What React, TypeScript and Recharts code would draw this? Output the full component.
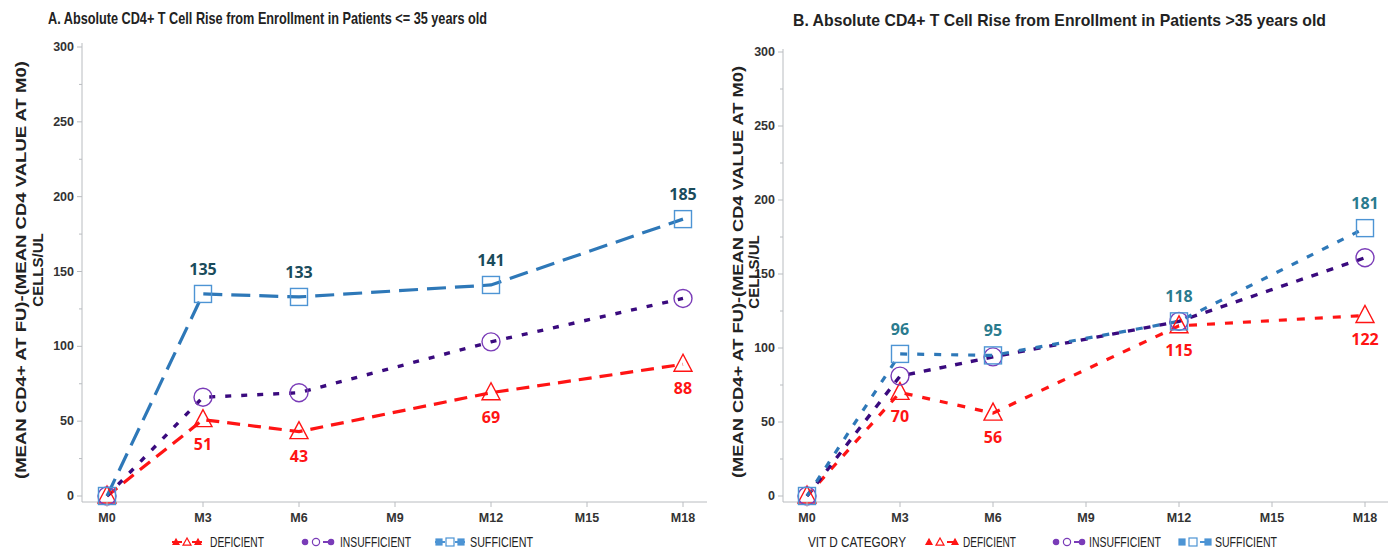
import React from 'react';
import { LineChart, Line, XAxis, YAxis, LabelList } from 'recharts';

const months = [0, 3, 6, 12, 18];
const xTicks = [0, 3, 6, 9, 12, 15, 18];
const yTicks = [0, 25, 50, 75, 100, 125, 150, 175, 200, 225, 250, 275, 300];

const leftDeficient = [0, 51, 43, 69, 88];
const leftInsufficient = [0, 66, 69, 103, 132];
const leftSufficient = [0, 135, 133, 141, 185];

const rightDeficient = [0, 70, 56, 115, 122];
const rightInsufficient = [0, 81, 94, 118, 161];
const rightSufficient = [0, 96, 95, 118, 181];

const titleA = 'A.  Absolute CD4+ T Cell Rise from Enrollment in Patients <= 35 years old';
const titleB = 'B. Absolute CD4+ T Cell Rise from Enrollment in Patients >35 years old';
const yLabel1 = '(MEAN CD4+ AT FU)-(MEAN CD4 VALUE AT M0)';
const yLabel2 = 'CELLS/UL';

const RED = '#ff1414';
const PURPLE_LINE = '#3a0a7e';
const PURPLE_MARK = '#7a3cb8';
const BLUE = '#2e78b8';
const BLUE_MARK = '#4d94d4';
const FRAME = '#b9bcc0';
const NARROW = "'Liberation Sans Narrow', 'Arial Narrow', 'Liberation Sans', sans-serif";
const WIDE = "'Liberation Sans', Arial, sans-serif";
const LABELFONT = "'Open Sans', 'Noto Sans', sans-serif";

const buildRows = (d: number[], i: number[], s: number[]) =>
  months.map((m, k) => ({ m, def: d[k], ins: i[k], suf: s[k] }));

const leftRows = buildRows(leftDeficient, leftInsufficient, leftSufficient);
const rightRows = buildRows(rightDeficient, rightInsufficient, rightSufficient);

const Triangle = (p: any) => {
  const { cx, cy } = p;
  if (cx == null || cy == null) return null;
  return (
    <polygon
      key={`t${p.index}`}
      points={`${cx},${cy - 10} ${cx - 9},${cy + 7} ${cx + 9},${cy + 7}`}
      fill="none"
      stroke={RED}
      strokeWidth={1.4}
    />
  );
};
const Circle = (p: any) => {
  const { cx, cy } = p;
  if (cx == null || cy == null) return null;
  return <circle key={`c${p.index}`} cx={cx} cy={cy} r={9} fill="none" stroke={PURPLE_MARK} strokeWidth={1.4} />;
};
const Square = (p: any) => {
  const { cx, cy } = p;
  if (cx == null || cy == null) return null;
  return (
    <rect key={`s${p.index}`} x={cx - 8.5} y={cy - 8.5} width={17} height={17} fill="none" stroke={BLUE_MARK} strokeWidth={1.4} />
  );
};

const makeLabel = (color: string, dy: number) => (p: any) => {
  const { x, y, value, index } = p;
  if (index === 0) return null;
  return (
    <text
      key={`l${index}`}
      x={x}
      y={y + dy}
      textAnchor="middle"
      dominantBaseline="central"
      fill={color}
      fontFamily={LABELFONT}
      fontWeight={700}
      fontSize={16}
    >
      {value}
    </text>
  );
};

const YTick = (p: any) => {
  const { x, y, payload } = p;
  const major = payload.value % 50 === 0;
  return (
    <g>
      <line x1={x} x2={x - (major ? 5 : 3)} y1={y} y2={y} stroke={FRAME} strokeWidth={1} />
      {major && (
        <text
          x={x - 8}
          y={y}
          textAnchor="end"
          dominantBaseline="central"
          fontFamily={NARROW}
          fontWeight={700}
          fontSize={12.5}
          fill="#333"
        >
          {payload.value}
        </text>
      )}
    </g>
  );
};

const XTick = (p: any) => {
  const { x, y, payload } = p;
  return (
    <g>
      <line x1={x} x2={x} y1={y} y2={y + 5} stroke={FRAME} strokeWidth={1} />
      <text
        x={x}
        y={y + 16}
        textAnchor="middle"
        dominantBaseline="central"
        fontFamily={NARROW}
        fontWeight={700}
        fontSize={12.5}
        fill="#333"
      >
        {'M' + payload.value}
      </text>
    </g>
  );
};

type PanelProps = {
  rows: any[];
  left: number;
  width: number;
  top: number;
  axisW: number;
  padTop: number;
  padBottom: number;
  xPad: { left: number; right: number };
  dashes: { def: string; ins: string; suf: string };
  topLabelColor: string;
};

const Panel = ({ rows, left, width, top, axisW, padTop, padBottom, xPad, dashes, topLabelColor }: PanelProps) => (
  <div style={{ position: 'absolute', left, top: 0 }}>
    <LineChart width={width} height={558} data={rows} margin={{ top, right: 0, bottom: 0, left: 0 }}>
      <XAxis
        dataKey="m"
        type="number"
        domain={[0, 18]}
        ticks={xTicks}
        padding={xPad}
        height={558 - 502}
        tickSize={0}
        tickMargin={0}
        axisLine={{ stroke: FRAME }}
        tickLine={false}
        tick={<XTick />}
        interval={0}
      />
      <XAxis
        xAxisId="frame"
        orientation="top"
        type="number"
        domain={[0, 18]}
        height={0}
        tick={false}
        tickLine={false}
        axisLine={{ stroke: FRAME }}
      />
      <YAxis
        type="number"
        domain={[0, 300]}
        ticks={yTicks}
        padding={{ top: padTop, bottom: padBottom }}
        width={axisW}
        tickSize={0}
        tickMargin={0}
        axisLine={{ stroke: FRAME }}
        tickLine={false}
        tick={<YTick />}
        interval={0}
      />
      <YAxis
        yAxisId="frame"
        orientation="right"
        type="number"
        domain={[0, 300]}
        width={0}
        tick={false}
        tickLine={false}
        axisLine={{ stroke: FRAME }}
      />
      <Line
        dataKey="def"
        stroke={RED}
        strokeWidth={3.2}
        strokeDasharray={dashes.def}
        dot={Triangle}
        activeDot={false}
        isAnimationActive={false}
      >
        <LabelList dataKey="def" content={makeLabel(RED, 24)} />
      </Line>
      <Line
        dataKey="ins"
        stroke={PURPLE_LINE}
        strokeWidth={3.4}
        strokeDasharray={dashes.ins}
        dot={Circle}
        activeDot={false}
        isAnimationActive={false}
      />
      <Line
        dataKey="suf"
        stroke={BLUE}
        strokeWidth={3.2}
        strokeDasharray={dashes.suf}
        dot={Square}
        activeDot={false}
        isAnimationActive={false}
      >
        <LabelList dataKey="suf" content={makeLabel(topLabelColor, -25)} />
      </Line>
    </LineChart>
  </div>
);

const LegendSym = ({ kind, color, x, mini }: { kind: string; color: string; x: number; mini: boolean }) => {
  const cy = 9;
  const mark = (cx: number, r: number, filled: boolean) => {
    if (kind === 'tri')
      return <polygon points={`${cx},${cy - r} ${cx - r},${cy + r * 0.8} ${cx + r},${cy + r * 0.8}`} fill={filled ? color : 'none'} stroke={color} strokeWidth={1.2} />;
    if (kind === 'circ') return <circle cx={cx} cy={cy} r={r * 0.9} fill={filled ? color : 'none'} stroke={color} strokeWidth={1.2} />;
    return <rect x={cx - r} y={cy - r} width={2 * r} height={2 * r} fill={filled ? color : 'none'} stroke={color} strokeWidth={1.2} />;
  };
  return (
    <g transform={`translate(${x},0)`}>
      {mini ? (
        <>
          {mark(2, 3, true)}
          {mark(13, 4, false)}
          <line x1={20} x2={30} y1={cy} y2={cy} stroke={color} strokeWidth={2} />
          {mark(28, 3, true)}
        </>
      ) : (
        <>
          <line x1={0} x2={10} y1={cy} y2={cy} stroke={color} strokeWidth={2} />
          {mark(4, 3, true)}
          {mark(15, 4, false)}
          <line x1={20} x2={30} y1={cy} y2={cy} stroke={color} strokeWidth={2} />
          {mark(26, 3, true)}
        </>
      )}
    </g>
  );
};

const LegendText = ({ x, w, text }: { x: number; w: number; text: string }) => (
  <text x={x} y={9} dominantBaseline="central" fontFamily={NARROW} fontSize={14} fill="#222" textLength={w} lengthAdjust="spacingAndGlyphs">
    {text}
  </text>
);

export default function App() {
  return (
    <div style={{ position: 'absolute', left: 0, top: 0, width: 1394, height: 558, background: '#fff', overflow: 'hidden' }}>
      <Panel
        rows={leftRows}
        left={0}
        width={707}
        top={43}
        axisW={82}
        padTop={4}
        padBottom={6}
        xPad={{ left: 25, right: 24 }}
        dashes={{ def: '13 8', ins: '6 10', suf: '19 9' }}
        topLabelColor="#1a4c5c"
      />
      <Panel
        rows={rightRows}
        left={700}
        width={688}
        top={49}
        axisW={83}
        padTop={3}
        padBottom={6}
        xPad={{ left: 24, right: 23 }}
        dashes={{ def: '8 10', ins: '7 9', suf: '7 10' }}
        topLabelColor="#2a7b8e"
      />
      <svg width={1394} height={558} style={{ position: 'absolute', left: 0, top: 0, pointerEvents: 'none' }}>
        <text x={48} y={18} dominantBaseline="central" fontFamily={NARROW} fontWeight={700} fontSize={17} fill="#222" textLength={439} lengthAdjust="spacingAndGlyphs">
          {titleA}
        </text>
        <text x={793} y={20} dominantBaseline="central" fontFamily={NARROW} fontWeight={700} fontSize={17} fill="#222" textLength={533} lengthAdjust="spacingAndGlyphs">
          {titleB}
        </text>
        <g transform="translate(20,270) rotate(-90)">
          <text textAnchor="middle" dominantBaseline="central" fontFamily={WIDE} fontWeight={700} fontSize={15} fill="#222" textLength={418} lengthAdjust="spacingAndGlyphs">
            {yLabel1}
          </text>
        </g>
        <g transform="translate(37,270) rotate(-90)">
          <text textAnchor="middle" dominantBaseline="central" fontFamily={WIDE} fontWeight={700} fontSize={15} fill="#222">
            {yLabel2}
          </text>
        </g>
        <g transform="translate(737,272) rotate(-90)">
          <text textAnchor="middle" dominantBaseline="central" fontFamily={WIDE} fontWeight={700} fontSize={15} fill="#222" textLength={412} lengthAdjust="spacingAndGlyphs">
            {yLabel1}
          </text>
        </g>
        <g transform="translate(753,272) rotate(-90)">
          <text textAnchor="middle" dominantBaseline="central" fontFamily={WIDE} fontWeight={700} fontSize={15} fill="#222">
            {yLabel2}
          </text>
        </g>
        <g transform="translate(0,533)">
          <LegendSym kind="tri" color={RED} x={172} mini={false} />
          <LegendText x={210} w={54} text="DEFICIENT" />
          <LegendSym kind="circ" color={PURPLE_MARK} x={303} mini={true} />
          <LegendText x={340} w={71} text="INSUFFICIENT" />
          <LegendSym kind="sq" color={BLUE_MARK} x={435} mini={false} />
          <LegendText x={470} w={63} text="SUFFICIENT" />

          <LegendText x={808} w={98} text="VIT D CATEGORY" />
          <LegendSym kind="tri" color={RED} x={927} mini={true} />
          <LegendText x={963} w={53} text="DEFICIENT" />
          <LegendSym kind="circ" color={PURPLE_MARK} x={1054} mini={true} />
          <LegendText x={1089} w={72} text="INSUFFICIENT" />
          <LegendSym kind="sq" color={BLUE_MARK} x={1180} mini={true} />
          <LegendText x={1215} w={62} text="SUFFICIENT" />
        </g>
      </svg>
    </div>
  );
}
